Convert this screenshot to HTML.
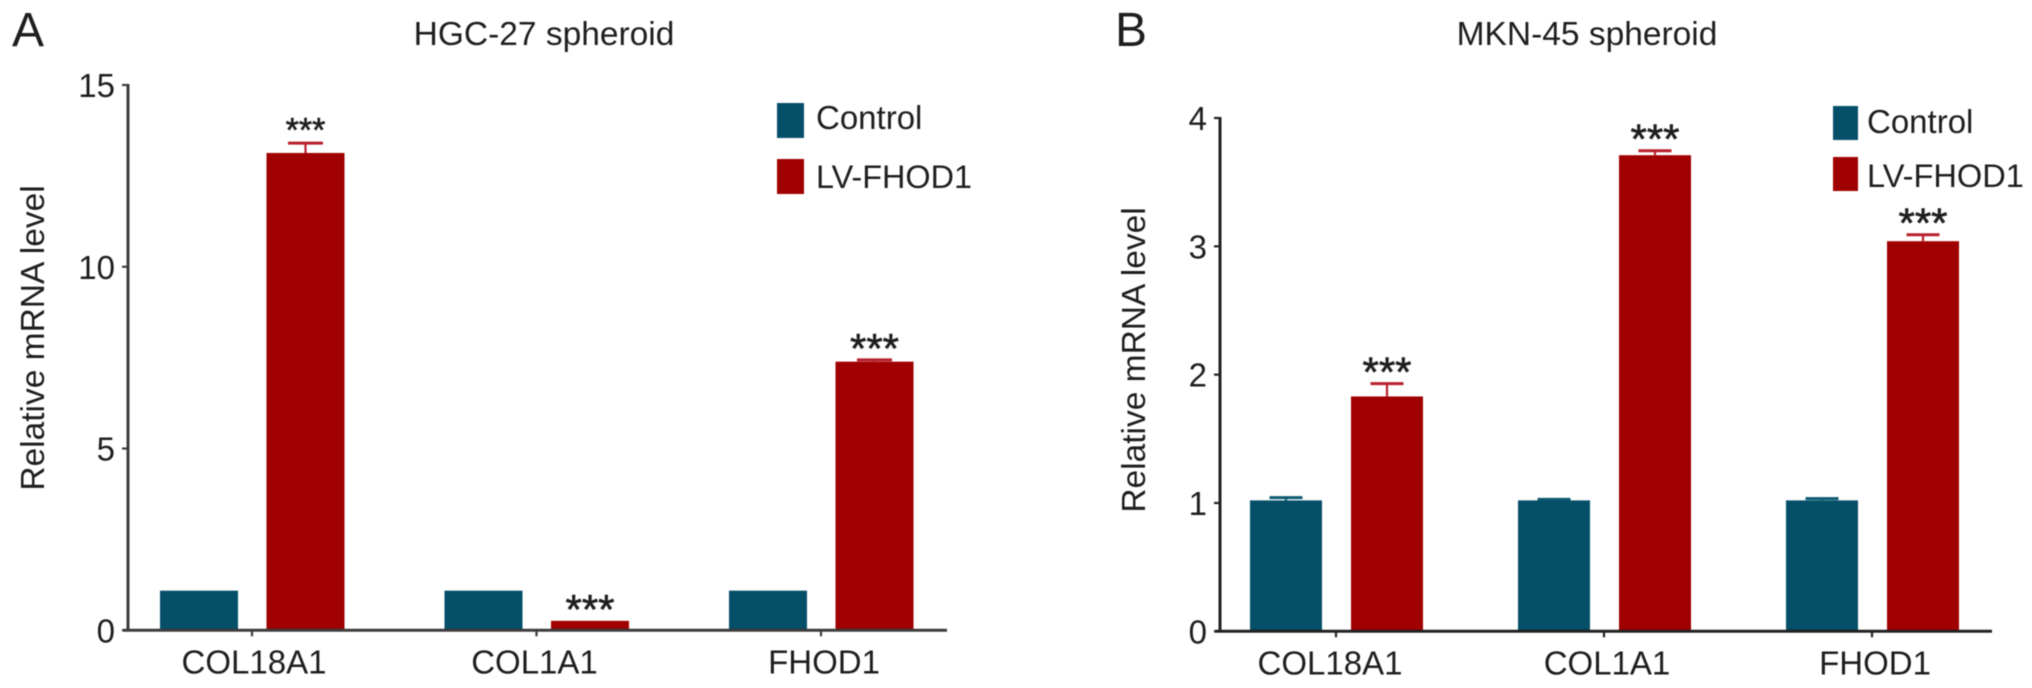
<!DOCTYPE html>
<html lang="en">
<head>
<meta charset="utf-8">
<title>Relative mRNA level in HGC-27 and MKN-45 spheroids</title>
<style>
  html, body { margin: 0; padding: 0; background: #fff; }
  body { width: 2032px; height: 688px; overflow: hidden; }
  svg { display: block; filter: blur(0.5px); }
  text { font-family: "Liberation Sans", Arial, sans-serif; fill: #1e1e1e; }
</style>
</head>
<body>
<svg id="figure" xmlns="http://www.w3.org/2000/svg" width="2032" height="688" viewBox="0 0 2032 688">
  <rect x="0" y="0" width="2032" height="688" fill="#ffffff"/>

  <text x="12" y="46" font-size="48">A</text>
  <text x="1115" y="46" font-size="48">B</text>

  <text x="544" y="45" font-size="33.5" text-anchor="middle">HGC-27 spheroid</text>
  <text x="1587" y="45" font-size="33.5" text-anchor="middle">MKN-45 spheroid</text>

  <text transform="translate(44,338) rotate(-90)" font-size="33.5" text-anchor="middle">Relative mRNA level</text>
  <text transform="translate(1145,360) rotate(-90)" font-size="33.5" text-anchor="middle">Relative mRNA level</text>

  <g>
    <rect x="777" y="103" width="27" height="35" fill="#054f68"/>
    <text x="816" y="129" font-size="33">Control</text>
    <rect x="777" y="159" width="27" height="35" fill="#a00000"/>
    <text x="816" y="188" font-size="32.4">LV-FHOD1</text>
  </g>
  <g>
    <rect x="1833" y="106" width="25" height="34" fill="#054f68"/>
    <text x="1867" y="133" font-size="33">Control</text>
    <rect x="1833" y="157" width="25" height="34" fill="#a00000"/>
    <text x="1867" y="187" font-size="32.6">LV-FHOD1</text>
  </g>
</svg>

<script>
const categories = ["COL18A1", "COL1A1", "FHOD1"];
const significance = ["***", "***", "***"];

const hgcTickLabels = [0, 5, 10, 15];
const hgcControl = [1.09, 1.09, 1.09];
const hgcControlErr = [0, 0, 0];
const hgcFhod = [13.13, 0.26, 7.39];
const hgcFhodErr = [0.27, 0, 0.05];

const mknTickLabels = [0, 1, 2, 3, 4];
const mknControl = [1.02, 1.02, 1.02];
const mknControlErr = [0.022, 0.008, 0.014];
const mknFhod = [1.83, 3.71, 3.04];
const mknFhodErr = [0.10, 0.035, 0.05];

const NS = "http://www.w3.org/2000/svg";
const figure = document.getElementById("figure");

function make(tag, attrs, parent) {
  const el = document.createElementNS(NS, tag);
  for (const k in attrs) el.setAttribute(k, attrs[k]);
  parent.appendChild(el);
  return el;
}

function drawPanel(id, g, tickLabels, control, controlErr, fhod, fhodErr) {
  const root = make("g", {}, figure);
  
  

  const yMax = tickLabels[tickLabels.length - 1];
  const yScale = v => g.y0 - (g.y0 - g.yTop) * v / yMax;
  const xCenter = i => g.x1 + i * g.step;

  function drawBar(i, value, err, color, errColor, offset, series) {
    const cx = xCenter(i) + offset;
    const top = yScale(value);
    const bar = make("rect", { x: cx - g.barW / 2, y: top, width: g.barW, height: g.y0 - top, fill: color }, root);
    
    
    if (err > 0) {
      const capY = yScale(value + err);
      const stem = make("line", { x1: cx, x2: cx, y1: top, y2: capY, stroke: errColor, "stroke-width": 2.2 }, root);
      
      
      const cap = make("line", { x1: cx - g.capW / 2, x2: cx + g.capW / 2, y1: capY, y2: capY, stroke: errColor, "stroke-width": 3 }, root);
      
      
    }
  }

  categories.forEach((cat, i) => {
    drawBar(i, control[i], controlErr[i], "#054f68", "#0b5a72", g.offC, "control");
    drawBar(i, fhod[i], fhodErr[i], "#a00000", "#b8202c", g.offF, "lv-fhod1");

    const starSize = g.starSizes[i];
    const star = make("text", {
      x: xCenter(i) + g.offF,
      y: yScale(fhod[i] + fhodErr[i]) - 21 + starSize * 0.57,
      "font-size": starSize,
      "text-anchor": "middle",
      stroke: "#1e1e1e",
      "stroke-width": 0.6
    }, root);
    star.textContent = significance[i];
    
    

    const tick = make("line", { x1: xCenter(i), x2: xCenter(i), y1: g.y0, y2: g.y0 + 6, stroke: g.axis, "stroke-width": 2.2 }, root);
    
    

    const label = make("text", { x: xCenter(i) + g.labelShift[i], y: g.y0 + 43, "font-size": 33, "text-anchor": "middle" }, root);
    label.textContent = cat;
    
    
  });

  const yAxis = make("line", { x1: g.x0, x2: g.x0, y1: yScale(yMax) - 1, y2: g.y0 + 1, stroke: g.axis, "stroke-width": 3 }, root);
  
  

  const xAxis = make("line", { x1: g.x0 - 5, x2: g.xEnd, y1: g.y0, y2: g.y0, stroke: g.axis, "stroke-width": 3 }, root);
  
  

  tickLabels.forEach(t => {
    const tick = make("line", { x1: g.x0 - 6, x2: g.x0, y1: yScale(t), y2: yScale(t), stroke: g.axis, "stroke-width": 2.2 }, root);
    
    

    const label = make("text", { x: g.x0 - 13, y: yScale(t) + 12, "font-size": 33, "text-anchor": "end" }, root);
    label.textContent = t;
    
    
  });
}

drawPanel("hgc27",
  { x0: 128, y0: 630.3, yTop: 85, x1: 252, step: 284.5, offC: -53, offF: 53.5, barW: 78, capW: 35, xEnd: 947, axis: "#3c3c3c", labelShift: [2, -2, 3], starSizes: [34, 42, 42] },
  hgcTickLabels, hgcControl, hgcControlErr, hgcFhod, hgcFhodErr);

drawPanel("mkn45",
  { x0: 1220, y0: 631.3, yTop: 118, x1: 1336, step: 268, offC: -50, offF: 51, barW: 72, capW: 33, xEnd: 1992, axis: "#222222", labelShift: [-6, 3, 3], starSizes: [42, 42, 42] },
  mknTickLabels, mknControl, mknControlErr, mknFhod, mknFhodErr);
</script>
</body>
</html>
